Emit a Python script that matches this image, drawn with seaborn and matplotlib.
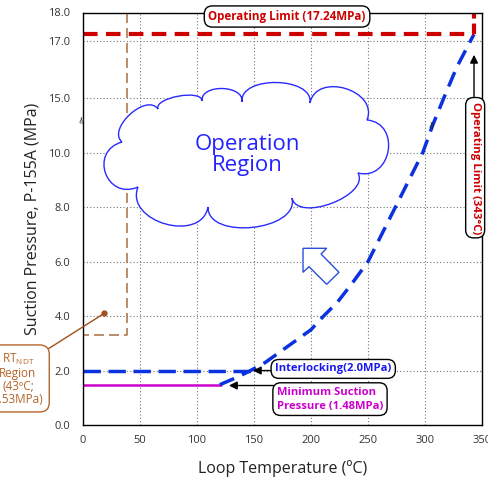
import numpy as np
import pandas as pd
import matplotlib
matplotlib.use("Agg")
import matplotlib.pyplot as plt
from matplotlib.path import Path
from matplotlib.patches import PathPatch, Polygon
import seaborn as sns

# ---------------- data ----------------
curve_temp = [120, 135, 147, 160, 175, 190, 200, 211, 223, 236, 250, 262, 274, 286, 298, 307, 316, 328, 343]
curve_press = [1.48, 1.75, 2.0, 2.3, 2.75, 3.2, 3.5, 4.0, 4.5, 5.2, 6.0, 7.0, 8.0, 9.0, 10.0, 12.6, 14.9, 16.1, 17.24]
interlock_temp = [0, 150]
interlock_press = [2.0, 2.0]
min_suction_temp = [0, 121]
min_suction_press = [1.48, 1.48]
op_limit_temp = [0, 343]
op_limit_press = [17.24, 17.24]
op_limit_vert_temp = [343, 343]
op_limit_vert_press = [17.24, 18.0]
rtndt_temp = [39, 39, 0]
rtndt_press = [18.0, 3.3, 3.3]
x_ticks = [0, 50, 100, 150, 200, 250, 300, 350]
y_ticks = [0, 2, 4, 6, 8, 10, 15, 17, 18]
y_tick_labels = ["0.0", "2.0", "4.0", "6.0", "8.0", "10.0", "15.0", "17.0", "18.0"]
# broken-axis mapping (real MPa -> plotted position)
brk_real = [0, 10, 15, 17, 18]
brk_pos = [0, 10, 12, 14.1, 15.15]


def ypos(p):
    return np.interp(p, brk_real, brk_pos)


sns.set_style("white")
plt.rcParams["font.family"] = ["Open Sans", "DejaVu Sans"]
BOLD_FAM = ["Open Sans", "Liberation Sans", "DejaVu Sans"]

W, H = 489, 480
fig = plt.figure(figsize=(W / 100, H / 100), dpi=100)
L, R, T, B = 83, 482, 12.5, 425
ax = fig.add_axes([L / W, 1 - B / H, (R - L) / W, (B - T) / H])


def px2ax(x, y):
    return ((x - L) / (R - L), (B - y) / (B - T))


blue = "#0a32e0"
red = "#cc0000"
mag = "#cc00cc"
brown = "#b5652a"

# RT_NDT region
sns.lineplot(x=rtndt_temp, y=ypos(np.array(rtndt_press)), ax=ax, color="#b07a50",
             linewidth=1.2, linestyle=(0, (6, 3)), sort=False, estimator=None)
# minimum suction
sns.lineplot(x=min_suction_temp, y=ypos(np.array(min_suction_press)), ax=ax, color=mag,
             linewidth=1.8, estimator=None)
# interlocking
sns.lineplot(x=interlock_temp, y=ypos(np.array(interlock_press)), ax=ax, color=blue,
             linewidth=2.5, linestyle=(0, (5, 2.2)), estimator=None)
# curve
sns.lineplot(x=curve_temp, y=ypos(np.array(curve_press)), ax=ax, color=blue,
             linewidth=2.5, linestyle=(0, (4.5, 2.5)), sort=False, estimator=None)
# operating limits
sns.lineplot(x=op_limit_temp, y=ypos(np.array(op_limit_press)), ax=ax, color=red,
             linewidth=3, linestyle=(0, (3.5, 2)), estimator=None)
sns.lineplot(x=op_limit_vert_temp, y=ypos(np.array(op_limit_vert_press)), ax=ax, color=red,
             linewidth=3, linestyle=(0, (2.5, 1.2)), estimator=None)

ax.set_xlim(0, 350)
ax.set_ylim(0, ypos(18.0))
ax.set_xticks(x_ticks)
ax.set_yticks(ypos(np.array(y_ticks)))
ax.set_yticklabels(y_tick_labels)
ax.tick_params(axis="both", length=0, labelsize=8, labelcolor="#333333")
ax.tick_params(axis="x", pad=7)
ax.tick_params(axis="y", pad=9)
ax.grid(True, linestyle=(0, (1, 2)), color="#777777", linewidth=0.8)
for s in ax.spines.values():
    s.set_color("black")
    s.set_linewidth(1.0)
ax.set_xlabel("Loop Temperature (ºC)", fontsize=11.5, color="#222222", labelpad=10)
ax.set_ylabel("Suction Pressure, P-155A (MPa)", fontsize=11.5, color="#222222", labelpad=6)

# ---------------- cloud ----------------
notches = [(122, 142), (158, 109), (202, 101), (242, 102), (310, 103), (367, 120),
           (358, 173), (292, 198), (208, 207), (138, 187)]
bulges = [15, 9, 13, 20, 24, 26, 19, 25, 28, 26]
cx, cy = 245, 158
verts, codes = [], []
n = len(notches)
for i in range(n):
    A = np.array(notches[i], float)
    Bp = np.array(notches[(i + 1) % n], float)
    d = Bp - A
    nv = np.array([-d[1], d[0]]) / np.hypot(*d)
    M = (A + Bp) / 2
    if np.dot(nv, M - np.array([cx, cy])) < 0:
        nv = -nv
    h = bulges[i] / 0.75
    C1 = A + h * nv - 0.05 * d
    C2 = Bp + h * nv + 0.05 * d
    if i == 0:
        verts.append(px2ax(*A)); codes.append(Path.MOVETO)
    verts += [px2ax(*C1), px2ax(*C2), px2ax(*Bp)]
    codes += [Path.CURVE4] * 3
cloud = PathPatch(Path(verts, codes), facecolor="white", edgecolor="#2a2aff",
                  linewidth=1.0, transform=ax.transAxes, zorder=3)
ax.add_patch(cloud)
ax.text(*px2ax(247, 155), "Operation\nRegion", transform=ax.transAxes, ha="center",
        va="center", fontsize=16, color="#2323ff", linespacing=1.05, zorder=4)

# hollow arrow
arrow_px = [(303, 248.3), (326.7, 248.3), (321, 254), (339, 272.3), (326.7, 284.3),
            (309, 266.7), (303, 272.3)]
ax.add_patch(Polygon([px2ax(*p) for p in arrow_px], closed=True, facecolor="white",
                     edgecolor="#2a4fd8", linewidth=1.0, transform=ax.transAxes, zorder=4))

# ---------------- annotations ----------------
box = dict(boxstyle="round,pad=0.35,rounding_size=0.7", facecolor="white",
           edgecolor="black", linewidth=1.0)
ax.text(179, ypos(17.86), "Operating Limit (17.24MPa)", ha="center", va="center",
        fontsize=8.4, fontweight="bold", family=BOLD_FAM, color=red, bbox=box,
        clip_on=False, zorder=8)
ax.annotate("", xy=(343, ypos(16.52)), xytext=(343, ypos(15.06)),
            arrowprops=dict(arrowstyle="-|>", color="black", lw=1.0, shrinkA=0,
                            shrinkB=0, mutation_scale=12), zorder=5)
ax.text(344, ypos(9.45), "Operating Limit (343°C)", ha="center", va="center",
        rotation=-90, fontsize=8.2, fontweight="bold", family=BOLD_FAM, color=red,
        bbox=box, clip_on=False, zorder=8)

ax.text(219.5, ypos(2.06), "Interlocking(2.0MPa)", ha="center", va="center",
        fontsize=8.1, fontweight="bold", family=BOLD_FAM, color="#1a1aee", bbox=box,
        zorder=8)
ax.annotate("", xy=(149, ypos(2.0)), xytext=(166, ypos(2.0)),
            arrowprops=dict(arrowstyle="-|>", color="black", lw=1.0, shrinkA=0,
                            shrinkB=0, mutation_scale=12), zorder=5)

ax.text(170, ypos(0.95), "Minimum Suction\nPressure (1.48MPa)", ha="left", va="center",
        fontsize=8.1, fontweight="bold", family=BOLD_FAM, color=mag, linespacing=1.35,
        bbox=box, zorder=8)
ax.annotate("", xy=(128, ypos(1.45)), xytext=(167, ypos(1.45)),
            arrowprops=dict(arrowstyle="-|>", color="black", lw=1.0, shrinkA=0,
                            shrinkB=0, mutation_scale=12), zorder=5)

# RT_NDT annotation
ax.plot([18.6], [ypos(4.1)], marker="o", markersize=3.5, color="#a0501e", zorder=5)
rt_box = dict(boxstyle="round,pad=0.5,rounding_size=0.8", facecolor="white",
              edgecolor=brown, linewidth=1.0)
ax.annotate("RT$_\\mathregular{NDT}$\nRegion\n(43ºC;\n3.53MPa)", xy=(18.6, ypos(4.1)),
            xytext=(18, H - 379), textcoords="figure pixels", ha="center", va="center",
            fontsize=8.5, color=brown, linespacing=1.0, bbox=rt_box,
            arrowprops=dict(arrowstyle="-", color="#a0501e", lw=1.0, shrinkA=0,
                            shrinkB=0, relpos=(1, 1)), annotation_clip=False, zorder=6)

# axis break marks
for bx, by in [(0, 11.2), (307, 11.0), (350, 11.1)]:
    ax.text(bx, by, "≈", rotation=80, ha="center", va="center", fontsize=10,
            color="#222222", clip_on=False, zorder=7)

fig.savefig("out.png", dpi=100)
